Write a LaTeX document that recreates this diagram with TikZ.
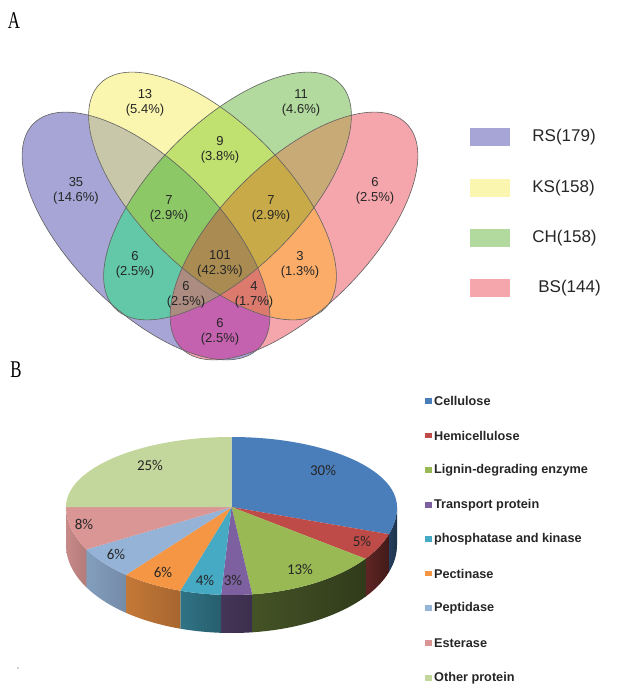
\documentclass[tikz,border=0pt]{standalone}
\usepackage{fontspec}
\setmainfont{Liberation Sans}
\newfontfamily\panelfont{Liberation Serif}
\newfontfamily\piefont{Carlito}
\usetikzlibrary{positioning}

% venn region colours
\definecolor{vRS}{RGB}{166,165,214}
\definecolor{vKS}{RGB}{250,246,175}
\definecolor{vCH}{RGB}{178,218,158}
\definecolor{vBS}{RGB}{244,166,172}
\definecolor{vRSKS}{RGB}{200,199,170}
\definecolor{vRSCH}{RGB}{98,200,168}
\definecolor{vRSBS}{RGB}{196,98,175}
\definecolor{vKSCH}{RGB}{192,224,112}
\definecolor{vKSBS}{RGB}{250,172,104}
\definecolor{vCHBS}{RGB}{200,170,118}
\definecolor{vRSKSCH}{RGB}{140,200,102}
\definecolor{vRSKSBS}{RGB}{220,122,110}
\definecolor{vRSCHBS}{RGB}{172,140,128}
\definecolor{vKSCHBS}{RGB}{200,170,72}
\definecolor{vALL}{RGB}{170,140,82}
% pie colours
\definecolor{celcol}{HTML}{4A7EBB}
\definecolor{hemcol}{HTML}{BE4B48}
\definecolor{ligcol}{HTML}{98B954}
\definecolor{tracol}{HTML}{7D60A0}
\definecolor{phocol}{HTML}{46AAC5}
\definecolor{peccol}{HTML}{F59645}
\definecolor{pepcol}{HTML}{95B3D7}
\definecolor{estcol}{HTML}{D99694}
\definecolor{othcol}{HTML}{C3D69B}

\def\setRS{(146,-236) ellipse [x radius=159,y radius=73.5,rotate=-45]}
\def\setKS{(212.5,-196) ellipse [x radius=159,y radius=73.5,rotate=-45]}
\def\setCH{(227.5,-196) ellipse [x radius=159,y radius=73.5,rotate=45]}
\def\setBS{(294,-236) ellipse [x radius=159,y radius=73.5,rotate=45]}

\begin{document}
\begin{tikzpicture}[x=1pt,y=1pt,
  vline/.style={draw=black!62,line width=0.6pt},
  vlab/.style={align=center,inner sep=0pt,text=black!85,font=\fontsize{13}{15}\selectfont},
  legbox/.style={minimum width=40pt,minimum height=18pt,inner sep=0pt},
  legtext/.style={anchor=west,inner sep=0pt,font=\fontsize{17}{17}\selectfont,text=black!85},
  tp/.style={x radius=165.5,y radius=70},
  bt/.style={x radius=165.5,y radius=88},
  pielab/.style={inner sep=0pt,font=\piefont\fontsize{15}{15}\selectfont,text=black!85},
  keybox/.style={minimum width=6.5pt,minimum height=5.5pt,inner sep=0pt},
  keytext/.style={anchor=west,inner sep=0pt,font=\fontsize{12.7}{12.7}\selectfont\bfseries,text=black!85}]

\fill[white] (0,0) rectangle (616,-693);
\useasboundingbox (0,0) rectangle (616,-693);

\node[font=\panelfont\fontsize{24}{24}\selectfont,xscale=0.7] (panelA) at (14,-21) {A};
\node[font=\panelfont\fontsize{24}{24}\selectfont,xscale=0.7] (panelB) at (16,-370) {B};

% venn: singles, then pairs, triples and the core on top
\fill[vRS] \setRS;
\fill[vKS] \setKS;
\fill[vCH] \setCH;
\fill[vBS] \setBS;
\begin{scope} \clip \setRS; \fill[vRSKS] \setKS; \end{scope}
\begin{scope} \clip \setRS; \fill[vRSCH] \setCH; \end{scope}
\begin{scope} \clip \setRS; \fill[vRSBS] \setBS; \end{scope}
\begin{scope} \clip \setKS; \fill[vKSCH] \setCH; \end{scope}
\begin{scope} \clip \setKS; \fill[vKSBS] \setBS; \end{scope}
\begin{scope} \clip \setCH; \fill[vCHBS] \setBS; \end{scope}
\begin{scope} \clip \setRS; \clip \setKS; \fill[vRSKSCH] \setCH; \end{scope}
\begin{scope} \clip \setRS; \clip \setKS; \fill[vRSKSBS] \setBS; \end{scope}
\begin{scope} \clip \setRS; \clip \setCH; \fill[vRSCHBS] \setBS; \end{scope}
\begin{scope} \clip \setKS; \clip \setCH; \fill[vKSCHBS] \setBS; \end{scope}
\begin{scope} \clip \setRS; \clip \setKS; \clip \setCH; \fill[vALL] \setBS; \end{scope}
\draw[vline] \setRS;
\draw[vline] \setKS;
\draw[vline] \setCH;
\draw[vline] \setBS;

\node[vlab] (ks) at (145,-103) {13\\(5.4\%)};
\node[vlab] (ch) at (301,-103) {11\\(4.6\%)};
\node[vlab] (ksch) at (220,-150) {9\\(3.8\%)};
\node[vlab] (rs) at (76,-190.5) {35\\(14.6\%)};
\node[vlab] (bs) at (375,-190.5) {6\\(2.5\%)};
\node[vlab] (rskskch) at (169,-209) {7\\(2.9\%)};
\node[vlab] (kschbs) at (271,-209) {7\\(2.9\%)};
\node[vlab] (rsch) at (135,-265) {6\\(2.5\%)};
\node[vlab] (all) at (220,-264) {101\\(42.3\%)};
\node[vlab] (ksbs) at (300,-265) {3\\(1.3\%)};
\node[vlab] (rschbs) at (186,-295) {6\\(2.5\%)};
\node[vlab] (rsksbs) at (254,-295) {4\\(1.7\%)};
\node[vlab] (rsbs) at (220,-332) {6\\(2.5\%)};

% venn legend
\node[legbox,fill=vRS] (boxRS) at (490,-137) {};
\node[legbox,fill=vKS] (boxKS) at (490,-188) {};
\node[legbox,fill=vCH] (boxCH) at (490,-238) {};
\node[legbox,fill=vBS] (boxBS) at (490,-288) {};
\node[legtext,right=22pt of boxRS] (legRS) {RS(179)};
\node[legtext,right=22pt of boxKS] (legKS) {KS(158)};
\node[legtext,right=22pt of boxCH] (legCH) {CH(158)};
\node[legtext,right=28pt of boxBS] (legBS) {BS(144)};

% pie: sides first, then the top
\begin{scope}[shift={(231.5,-507)}]
\shade[left color=celcol!50!black,right color=celcol!40!black] (0:165.5 and 88) arc[bt,start angle=0,end angle=-18] -- ++(0,-38) arc[bt,start angle=-18,end angle=0] -- cycle;
\shade[left color=hemcol!50!black,right color=hemcol!35!black] (-18:165.5 and 88) arc[bt,start angle=-18,end angle=-36] -- ++(0,-38) arc[bt,start angle=-36,end angle=-18] -- cycle;
\shade[left color=ligcol!45!black,right color=ligcol!32!black] (-36:165.5 and 88) arc[bt,start angle=-36,end angle=-82.8] -- ++(0,-38) arc[bt,start angle=-82.8,end angle=-36] -- cycle;
\shade[left color=tracol!55!black,right color=tracol!48!black] (-82.8:165.5 and 88) arc[bt,start angle=-82.8,end angle=-93.6] -- ++(0,-38) arc[bt,start angle=-93.6,end angle=-82.8] -- cycle;
\shade[left color=phocol!68!black,right color=phocol!55!black] (-93.6:165.5 and 88) arc[bt,start angle=-93.6,end angle=-108] -- ++(0,-38) arc[bt,start angle=-108,end angle=-93.6] -- cycle;
\shade[left color=peccol!80!black,right color=peccol!68!black] (-108:165.5 and 88) arc[bt,start angle=-108,end angle=-129.6] -- ++(0,-38) arc[bt,start angle=-129.6,end angle=-108] -- cycle;
\shade[left color=pepcol!88!black,right color=pepcol!78!black] (-129.6:165.5 and 88) arc[bt,start angle=-129.6,end angle=-151.2] -- ++(0,-38) arc[bt,start angle=-151.2,end angle=-129.6] -- cycle;
\shade[left color=estcol!92!black,right color=estcol!82!black] (-151.2:165.5 and 88) arc[bt,start angle=-151.2,end angle=-180] -- ++(0,-38) arc[bt,start angle=-180,end angle=-151.2] -- cycle;

\fill[celcol] (0,0) -- (90:165.5 and 70) arc[tp,start angle=90,end angle=0] arc[bt,start angle=0,end angle=-18] -- cycle;
\fill[hemcol] (0,0) -- (-18:165.5 and 88) arc[bt,start angle=-18,end angle=-36] -- cycle;
\fill[ligcol] (0,0) -- (-36:165.5 and 88) arc[bt,start angle=-36,end angle=-82.8] -- cycle;
\fill[tracol] (0,0) -- (-82.8:165.5 and 88) arc[bt,start angle=-82.8,end angle=-93.6] -- cycle;
\fill[phocol] (0,0) -- (-93.6:165.5 and 88) arc[bt,start angle=-93.6,end angle=-108] -- cycle;
\fill[peccol] (0,0) -- (-108:165.5 and 88) arc[bt,start angle=-108,end angle=-129.6] -- cycle;
\fill[pepcol] (0,0) -- (-129.6:165.5 and 88) arc[bt,start angle=-129.6,end angle=-151.2] -- cycle;
\fill[estcol] (0,0) -- (-151.2:165.5 and 88) arc[bt,start angle=-151.2,end angle=-180] -- cycle;
\fill[othcol] (0,0) -- (180:165.5 and 70) arc[tp,start angle=180,end angle=90] -- cycle;
\end{scope}

\node[pielab] (pcel) at (323,-470) {30\%};
\node[pielab] (phem) at (362,-541) {5\%};
\node[pielab] (plig) at (300,-569) {13\%};
\node[pielab] (ptra) at (233,-580) {3\%};
\node[pielab] (ppho) at (205,-580) {4\%};
\node[pielab] (ppec) at (163,-572) {6\%};
\node[pielab] (ppep) at (116,-554) {6\%};
\node[pielab] (pest) at (84,-524) {8\%};
\node[pielab] (poth) at (150,-465) {25\%};

% pie legend
\node[keybox,fill=celcol] (keyCel) at (428.5,-401) {};
\node[keybox,fill=hemcol] (keyHem) at (428.5,-435.5) {};
\node[keybox,fill=ligcol] (keyLig) at (428.5,-470) {};
\node[keybox,fill=tracol] (keyTra) at (428.5,-505) {};
\node[keybox,fill=phocol] (keyPho) at (428.5,-539) {};
\node[keybox,fill=peccol] (keyPec) at (428.5,-573.5) {};
\node[keybox,fill=pepcol] (keyPep) at (428.5,-608) {};
\node[keybox,fill=estcol] (keyEst) at (428.5,-643) {};
\node[keybox,fill=othcol] (keyOth) at (428.5,-678) {};
\node[keytext,right=2pt of keyCel] (txtCel) {Cellulose};
\node[keytext,right=2pt of keyHem] (txtHem) {Hemicellulose};
\node[keytext,right=2pt of keyLig] (txtLig) {Lignin-degrading enzyme};
\node[keytext,right=2pt of keyTra] (txtTra) {Transport protein};
\node[keytext,right=2pt of keyPho] (txtPho) {phosphatase and kinase};
\node[keytext,right=2pt of keyPec] (txtPec) {Pectinase};
\node[keytext,right=2pt of keyPep] (txtPep) {Peptidase};
\node[keytext,right=2pt of keyEst] (txtEst) {Esterase};
\node[keytext,right=2pt of keyOth] (txtOth) {Other protein};

\fill[black!35] (18,-668) circle (0.8);
\end{tikzpicture}
\end{document}
